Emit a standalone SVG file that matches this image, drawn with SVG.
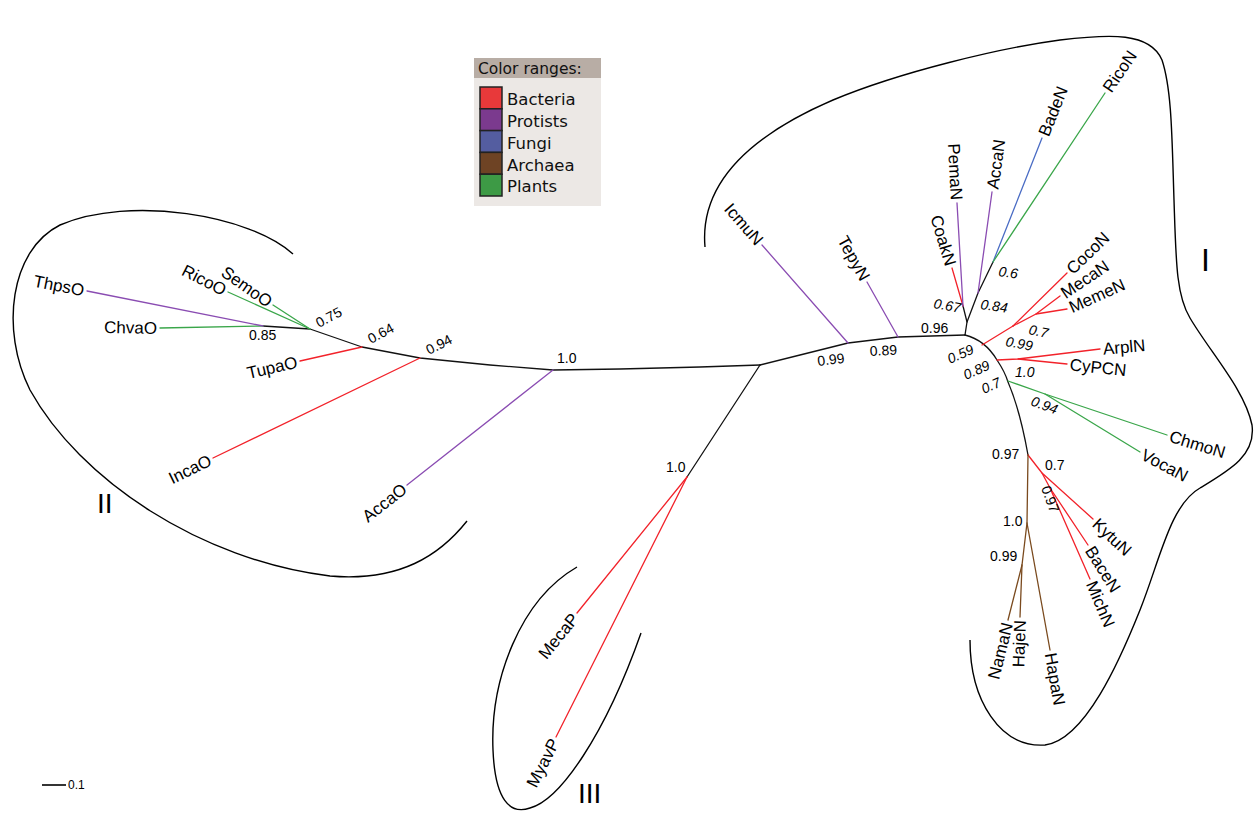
<svg xmlns="http://www.w3.org/2000/svg" width="1254" height="814" viewBox="0 0 1254 814">
<style>
.b{fill:none;stroke-width:1.3;stroke-linecap:round;stroke-linejoin:round}
.k{stroke:#111}.r{stroke:#f2222a}.p{stroke:#8a4cb2}.g{stroke:#3aa64a}.u{stroke:#4a6cc4}.n{stroke:#7a4a1e}
.clade{fill:none;stroke:#000;stroke-width:1.4}
.lf{font-family:"Liberation Sans",Arial,sans-serif;font-size:17px;fill:#000}
.e{text-anchor:end}
.bs{font-family:"Liberation Sans",Arial,sans-serif;font-size:14px;fill:#000}
.it{font-style:italic}
.rn{font-family:"Liberation Sans",Arial,sans-serif;fill:#000}
.lg{font-family:"DejaVu Sans",sans-serif;font-size:16.5px;fill:#111}
.sw{stroke:#222;stroke-width:1.5}
</style>
<rect width="1254" height="814" fill="#fff"/>

<g id="legend">
<rect x="474" y="58" width="127" height="148" fill="#ece8e5"/>
<rect x="474" y="58" width="127" height="20" fill="#b8ada5"/>
<text x="478" y="74" class="lg" style="font-size:15.5px">Color ranges:</text>
<rect x="480" y="87" width="22" height="21.8" fill="#e8393a" class="sw"/>
<rect x="480" y="108.8" width="22" height="21.8" fill="#7b3a8e" class="sw"/>
<rect x="480" y="130.6" width="22" height="21.8" fill="#545da0" class="sw"/>
<rect x="480" y="152.4" width="22" height="21.8" fill="#6e4324" class="sw"/>
<rect x="480" y="174.2" width="22" height="21.8" fill="#3d9a45" class="sw"/>
<text x="507" y="105" class="lg">Bacteria</text>
<text x="507" y="127" class="lg">Protists</text>
<text x="507" y="149" class="lg">Fungi</text>
<text x="507" y="171" class="lg">Archaea</text>
<text x="507" y="192" class="lg">Plants</text>
</g>

<g id="clades">
<path class="clade" d="M 705,247 C 700,190 740,140 833,100 C 900,72 1000,48 1060,40 C 1110,34 1150,32 1162,60 C 1172,90 1172,140 1174,200 C 1176,260 1176,295 1190,318 C 1210,352 1245,390 1252,425 C 1256,455 1230,470 1200,488 C 1170,505 1160,560 1140,610 C 1120,660 1085,740 1045,745 C 1000,748 970,700 970,640"/>
<path class="clade" d="M 293,254 C 250,215 130,195 60,225 C 10,250 0,330 30,390 C 80,480 200,560 330,576 C 400,582 440,555 467,521"/>
<path class="clade" d="M 577,567 C 520,600 490,680 493,750 C 495,800 510,815 530,808 C 560,800 605,735 641,633"/>
<text class="rn" x="1201" y="271" style="font-size:32px">I</text>
<text class="rn" x="97" y="513" style="font-size:28px">II</text>
<text class="rn" x="578" y="803" style="font-size:28px">III</text>
</g>

<g id="connectors">
<polyline class="b k" points="760,365 700,367 620,369 553,370 490,365 420,358 362,347 310,329 263,326"/>
<polyline class="b k" points="760,365 800,355 848,343 898,337 965,335"/>
<line class="b k" x1="760" y1="365" x2="687" y2="477"/>
<polyline class="b k" points="965,335 967,322 963,306"/>
<polyline class="b k" points="967,322 978,293 993,262"/>
<path class="b k" d="M 965,335 Q 985,340 997,360 Q 1005,372 1008,382 Q 1020,410 1028,455"/>
<line class="b p" x1="553" y1="370" x2="407" y2="485"/>
<line class="b r" x1="420" y1="358" x2="213" y2="458"/>
<line class="b r" x1="362" y1="347" x2="300" y2="361"/>
<line class="b g" x1="310" y1="329" x2="273" y2="305"/>
<line class="b g" x1="310" y1="329" x2="228" y2="292"/>
<line class="b g" x1="263" y1="326" x2="160" y2="328"/>
<line class="b p" x1="263" y1="326" x2="87" y2="291"/>
<line class="b r" x1="687" y1="477" x2="577" y2="613"/>
<line class="b r" x1="687" y1="477" x2="556" y2="737"/>
<line class="b p" x1="848" y1="343" x2="762" y2="245"/>
<line class="b p" x1="898" y1="337" x2="867" y2="282"/>
<line class="b r" x1="963" y1="306" x2="952" y2="268"/>
<line class="b p" x1="963" y1="306" x2="957" y2="203"/>
<line class="b p" x1="978" y1="293" x2="992" y2="192"/>
<line class="b u" x1="993" y1="262" x2="1042" y2="138"/>
<line class="b g" x1="993" y1="262" x2="1105" y2="93"/>
<line class="b r" x1="982" y1="345" x2="1013" y2="326"/>
<line class="b r" x1="1013" y1="326" x2="1067" y2="273"/>
<polyline class="b r" points="1013,326 1036,314 1060,296"/>
<line class="b r" x1="1036" y1="314" x2="1067" y2="309"/>
<polyline class="b r" points="997,360 1018,359 1100,349"/>
<line class="b r" x1="1018" y1="359" x2="1067" y2="364"/>
<polyline class="b g" points="1008,381 1045,394 1167,435"/>
<line class="b g" x1="1045" y1="394" x2="1140" y2="452"/>
<polyline class="b r" points="1028,455 1042,473 1093,519"/>
<polyline class="b r" points="1042,473 1050,488 1088,545"/>
<line class="b r" x1="1050" y1="488" x2="1090" y2="579"/>
<polyline class="b n" points="1028,455 1027,523 1050,650"/>
<polyline class="b n" points="1027,523 1022,565 1008,620"/>
<line class="b n" x1="1022" y1="565" x2="1020" y2="617"/>
<line x1="42" y1="785" x2="66" y2="785" stroke="#000" stroke-width="1.6"/>
</g>

<g id="leaves">
<g id="ThpsO"><text class="lf e" transform="translate(87,291) rotate(11)" x="-3" dy="0.35em">ThpsO</text></g>
<g id="ChvaO"><text class="lf e" transform="translate(160,328) rotate(1)" x="-3" dy="0.35em">ChvaO</text></g>
<g id="RicoO"><text class="lf e" transform="translate(228,292) rotate(27)" x="-3" dy="0.35em">RicoO</text></g>
<g id="SemoO"><text class="lf e" transform="translate(273,305) rotate(35)" x="-3" dy="0.35em">SemoO</text></g>
<g id="TupaO"><text class="lf e" transform="translate(300,361) rotate(-13)" x="-3" dy="0.35em">TupaO</text></g>
<g id="IncaO"><text class="lf e" transform="translate(213,458) rotate(-26)" x="-3" dy="0.35em">IncaO</text></g>
<g id="AccaO"><text class="lf e" transform="translate(407,485) rotate(-38)" x="-3" dy="0.35em">AccaO</text></g>
<g id="MecaP"><text class="lf e" transform="translate(577,613) rotate(-51)" x="-3" dy="0.35em">MecaP</text></g>
<g id="MyavP"><text class="lf e" transform="translate(556,737) rotate(-63)" x="-3" dy="0.35em">MyavP</text></g>
<g id="IcmuN"><text class="lf e" transform="translate(762,245) rotate(49)" x="-3" dy="0.35em">IcmuN</text></g>
<g id="TepyN"><text class="lf e" transform="translate(867,282) rotate(61)" x="-3" dy="0.35em">TepyN</text></g>
<g id="CoakN"><text class="lf e" transform="translate(952,268) rotate(73)" x="-3" dy="0.35em">CoakN</text></g>
<g id="PemaN"><text class="lf e" transform="translate(957,203) rotate(87)" x="-3" dy="0.35em">PemaN</text></g>
<g id="AccaN"><text class="lf" transform="translate(992,192) rotate(-82)" x="3" dy="0.35em">AccaN</text></g>
<g id="BadeN"><text class="lf" transform="translate(1042,138) rotate(-68)" x="3" dy="0.35em">BadeN</text></g>
<g id="RicoN"><text class="lf" transform="translate(1105,93) rotate(-56)" x="3" dy="0.35em">RicoN</text></g>
<g id="CocoN"><text class="lf" transform="translate(1067,273) rotate(-44)" x="3" dy="0.35em">CocoN</text></g>
<g id="MecaN"><text class="lf" transform="translate(1060,296) rotate(-34)" x="3" dy="0.35em">MecaN</text></g>
<g id="MemeN"><text class="lf" transform="translate(1067,309) rotate(-24)" x="3" dy="0.35em">MemeN</text></g>
<g id="ArplN"><text class="lf" transform="translate(1100,349) rotate(-5)" x="3" dy="0.35em">ArplN</text></g>
<g id="CyPCN"><text class="lf" transform="translate(1067,364) rotate(6)" x="3" dy="0.35em">CyPCN</text></g>
<g id="ChmoN"><text class="lf" transform="translate(1167,435) rotate(17)" x="3" dy="0.35em">ChmoN</text></g>
<g id="VocaN"><text class="lf" transform="translate(1140,452) rotate(28)" x="3" dy="0.35em">VocaN</text></g>
<g id="KytuN"><text class="lf" transform="translate(1093,519) rotate(43)" x="3" dy="0.35em">KytuN</text></g>
<g id="BaceN"><text class="lf" transform="translate(1088,545) rotate(58)" x="3" dy="0.35em">BaceN</text></g>
<g id="MichN"><text class="lf" transform="translate(1090,579) rotate(67)" x="3" dy="0.35em">MichN</text></g>
<g id="HapaN"><text class="lf" transform="translate(1050,650) rotate(80)" x="3" dy="0.35em">HapaN</text></g>
<g id="NamaN"><text class="lf e" transform="translate(1008,620) rotate(-76)" x="-3" dy="0.35em">NamaN</text></g>
<g id="HajeN"><text class="lf e" transform="translate(1020,617) rotate(-88)" x="-3" dy="0.35em">HajeN</text></g>
</g>

<g id="support">
<text class="bs" x="557" y="363">1.0</text>
<text class="bs" transform="translate(429,355) rotate(-27)">0.94</text>
<text class="bs" transform="translate(371,344) rotate(-28)">0.64</text>
<text class="bs" transform="translate(319,328) rotate(-28)">0.75</text>
<text class="bs" x="249" y="340">0.85</text>
<text class="bs" transform="translate(818,366) rotate(-7)">0.99</text>
<text class="bs" transform="translate(870,356) rotate(-3)">0.89</text>
<text class="bs" x="921" y="333">0.96</text>
<text class="bs it" transform="translate(933,308) rotate(10)">0.67</text>
<text class="bs it" transform="translate(980,309) rotate(8)">0.84</text>
<text class="bs it" transform="translate(998,276) rotate(8)">0.6</text>
<text class="bs it" transform="translate(1028,334) rotate(12)">0.7</text>
<text class="bs it" transform="translate(1005,346) rotate(10)">0.99</text>
<text class="bs it" transform="translate(950,364) rotate(-24)">0.59</text>
<text class="bs it" transform="translate(966,380) rotate(-24)">0.89</text>
<text class="bs it" transform="translate(984,394) rotate(-24)">0.7</text>
<text class="bs it" x="1015" y="377">1.0</text>
<text class="bs it" transform="translate(1030,405) rotate(20)">0.94</text>
<text class="bs" x="992" y="459">0.97</text>
<text class="bs" x="1045" y="470">0.7</text>
<text class="bs" transform="translate(1041,488) rotate(70)">0.97</text>
<text class="bs" x="1003" y="526">1.0</text>
<text class="bs" x="990" y="561">0.99</text>
<text class="bs" x="666" y="472">1.0</text>
<text class="bs" x="68" y="789" style="font-size:12px">0.1</text>
</g>
</svg>
